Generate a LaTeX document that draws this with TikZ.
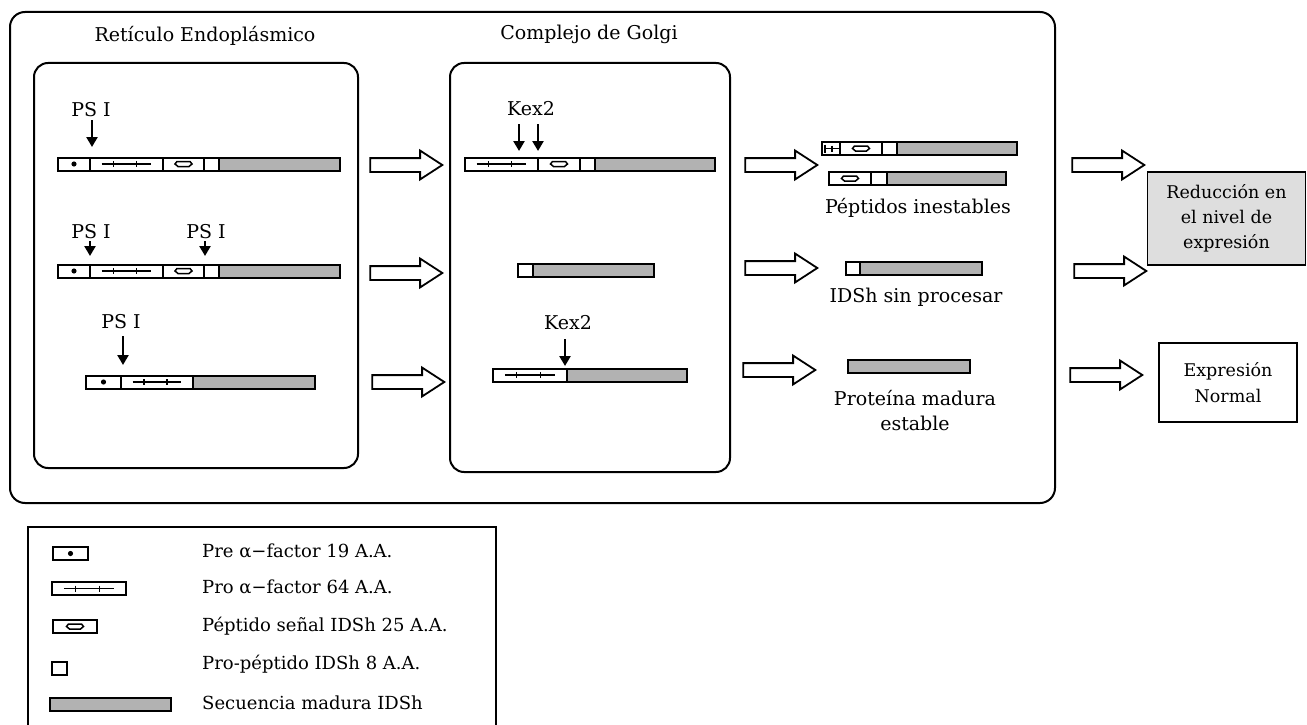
\documentclass[tikz,border=0pt]{standalone}
\usepackage{fontspec}
\setmainfont{DejaVu Serif}
\usetikzlibrary{arrows.meta,shapes.arrows}
\definecolor{matgray}{RGB}{178,178,178}
\definecolor{boxgray}{RGB}{222,222,222}
\newcommand\bseg[4]{\draw[#4] (#1,#3-6.5) rectangle (#2,#3+6.5);}
\newcommand\sdot[3]{\fill ({(#1+#2)/2},#3) circle (2.6);}
\newcommand\spro[3]{%
  \draw[sym] ({#1+0.16*(#2-#1)},#3) -- ({#2-0.16*(#2-#1)},#3);
  \draw[sym] ({#1+0.32*(#2-#1)},#3-3) -- ++(0,6);
  \draw[sym] ({#1+0.64*(#2-#1)},#3-3) -- ++(0,6);}
\newcommand\ssig[3]{\draw[line width=1.5pt] ({(#1+#2)/2-8.5},#3) -- ++(2,-2.5) -- ++(13,0) -- ++(2,2.5) -- ++(-3,2.5) -- ++(-11,0) -- cycle;}
\begin{document}
\begin{tikzpicture}[x=1pt,y=-1pt,
  seg/.style={draw, line width=2pt, fill=white},
  mat/.style={draw, line width=2pt, fill=matgray},
  sym/.style={line width=1.3pt},
  lbl/.style={font=\fontsize{19}{25}\selectfont, inner sep=0pt},
  leg/.style={font=\fontsize{18}{22}\selectfont, inner sep=0pt, anchor=base west},
  cutarrow/.style={line width=2.8pt, -{Triangle[width=11pt,length=10pt]}},
  barrow/.style={single arrow, draw, fill=white, line width=1.8pt, minimum height=72pt,
    inner xsep=0pt, inner ysep=6pt, single arrow head extend=7.5pt, single arrow tip angle=66},
  frame/.style={draw, line width=2pt}
]
\useasboundingbox (0,0) rectangle (1307,725);

% frames
\draw[frame, rounded corners=15pt] (10,12) rectangle (1055,503);
\draw[frame, rounded corners=14pt] (34,63) rectangle (358,468);
\draw[frame, rounded corners=14pt] (450,63) rectangle (730,472);
\node[lbl, anchor=base] (ert) at (205,42) {Retículo Endoplásmico};
\node[lbl, anchor=base] (gt) at (589,40) {Complejo de Golgi};

% ER row 1
\bseg{58}{90}{164}{seg} \sdot{58}{90}{164}
\bseg{90}{163}{164}{seg} \spro{90}{163}{164}
\bseg{163}{204}{164}{seg} \ssig{163}{204}{164}
\bseg{204}{219}{164}{seg}
\bseg{219}{340}{164}{mat}
% ER row 2
\bseg{58}{90}{271}{seg} \sdot{58}{90}{271}
\bseg{90}{163}{271}{seg} \spro{90}{163}{271}
\bseg{163}{204}{271}{seg} \ssig{163}{204}{271}
\bseg{204}{219}{271}{seg}
\bseg{219}{340}{271}{mat}
% ER row 3
\bseg{86}{121}{382}{seg} \sdot{86}{121}{382}
\bseg{121}{193}{382}{seg} \spro{121}{193}{382}
\bseg{193}{315}{382}{mat}

% PS I labels and arrows
\node[lbl, anchor=base] (ps1) at (91,117) {PS I};
\coordinate (ps1t) at (92,147);
\draw[cutarrow, shorten <=3pt] (ps1.south -| ps1t) -- (ps1t);
\node[lbl, anchor=base] (ps2) at (91,238) {PS I};
\coordinate (ps2t) at (90,256);
\draw[cutarrow, shorten <=3pt] (ps2.south -| ps2t) -- (ps2t);
\node[lbl, anchor=base] (ps3) at (206,238) {PS I};
\coordinate (ps3t) at (205,256);
\draw[cutarrow, shorten <=3pt] (ps3.south -| ps3t) -- (ps3t);
\node[lbl, anchor=base] (ps4) at (121,328) {PS I};
\coordinate (ps4t) at (123,365);
\draw[cutarrow, shorten <=8pt] (ps4.south -| ps4t) -- (ps4t);

% Golgi row 1
\bseg{465}{538}{164}{seg} \spro{465}{538}{164}
\bseg{538}{580}{164}{seg} \ssig{538}{580}{164}
\bseg{580}{595}{164}{seg}
\bseg{595}{715}{164}{mat}
% Golgi row 2
\bseg{518}{533}{270}{seg}
\bseg{533}{654}{270}{mat}
% Golgi row 3
\bseg{493}{567}{375}{seg} \spro{493}{567}{375}
\bseg{567}{687}{375}{mat}

\node[lbl, anchor=base] (kx1) at (531,115) {Kex2};
\coordinate (kx1a) at (519,151);
\coordinate (kx1b) at (538,151);
\draw[cutarrow, shorten <=9pt] (kx1.south -| kx1a) -- (kx1a);
\draw[cutarrow, shorten <=9pt] (kx1.south -| kx1b) -- (kx1b);
\node[lbl, anchor=base] (kx2) at (568,329) {Kex2};
\coordinate (kx2a) at (565,366);
\draw[cutarrow, shorten <=10pt] (kx2.south -| kx2a) -- (kx2a);

% right column products
\bseg{822}{840}{148.5}{seg}
\draw[line width=2.2pt] (825,144.5) -- (825,152.5);
\draw[sym] (825,148.5) -- (840,148.5);
\draw[sym] (832,145.5) -- (832,151.5);
\bseg{840}{882}{148.5}{seg} \ssig{840}{882}{148.5}
\bseg{882}{897}{148.5}{seg}
\bseg{897}{1017}{148.5}{mat}

\bseg{829}{871}{178.5}{seg} \ssig{829}{871}{178.5}
\bseg{871}{887}{178.5}{seg}
\bseg{887}{1006}{178.5}{mat}
\node[lbl, anchor=base] (pin) at (918,213) {Péptidos inestables};

\bseg{846}{860}{268}{seg}
\bseg{860}{982}{268}{mat}
\node[lbl, anchor=base] (sinp) at (916,302) {IDSh sin procesar};

\bseg{848}{970}{366.5}{mat}
\node[lbl, anchor=base, align=center] (pme) at (915,430) {Proteína madura\\estable};

% block arrows
\node[barrow] (a1) at (401,165) {};
\node[barrow] (a2) at (401,273) {};
\node[barrow] (a3) at (403,382) {};
\node[barrow] (b1) at (776,165) {};
\node[barrow] (b2) at (776,268) {};
\node[barrow] (b3) at (774,370) {};
\node[barrow] (c1) at (1103,165) {};
\node[barrow] (c2) at (1105,271) {};
\node[barrow] (c3) at (1101,375) {};

% outcome boxes
\node[draw, line width=1.8pt, fill=boxgray, minimum width=158pt, minimum height=93pt,
  inner sep=0pt, align=center, font=\fontsize{17.5}{25}\selectfont] (red) at (1226.5,218.5)
  {Reducción en\\el nivel de\\expresión};
\node[draw, line width=1.8pt, fill=white, minimum width=138pt, minimum height=79pt,
  inner sep=0pt, align=center, font=\fontsize{17.5}{26}\selectfont] (norm) at (1228,382.5)
  {Expresión\\Normal};

% legend
\draw[line width=1.8pt] (28,725) -- (28,527) -- (496,527) -- (496,725);
\bseg{53}{88}{553.5}{seg} \sdot{53}{88}{553.5}
\bseg{52}{126}{588.5}{seg} \spro{52}{126}{588.5}
\bseg{53}{97}{626.5}{seg} \ssig{53}{97}{626.5}
\bseg{52}{67}{668}{seg}
\bseg{50}{171}{704.5}{mat}
\node[leg] (l1) at (202,557) {Pre α−factor 19 A.A.};
\node[leg] (l2) at (202,593) {Pro α−factor 64 A.A.};
\node[leg] (l3) at (202,631) {Péptido señal IDSh 25 A.A.};
\node[leg] (l4) at (202,669) {Pro-péptido IDSh 8 A.A.};
\node[leg] (l5) at (202,709) {Secuencia madura IDSh};
\end{tikzpicture}
\end{document}
